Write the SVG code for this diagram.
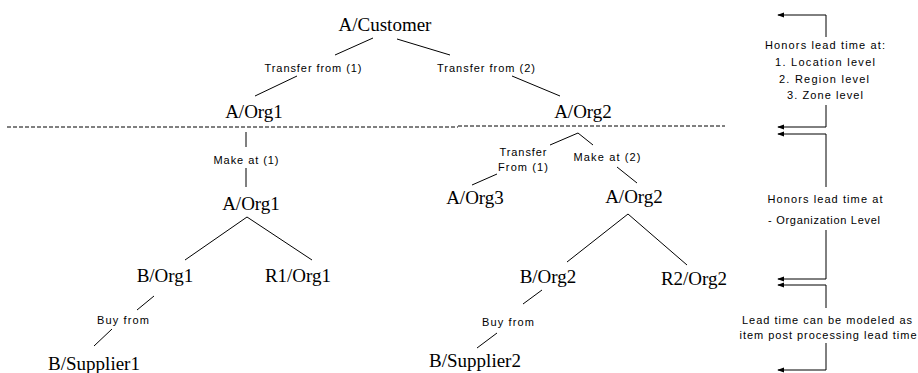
<svg xmlns="http://www.w3.org/2000/svg" width="918" height="373" viewBox="0 0 918 373">
<style>
.n{font-family:"Liberation Serif","Times New Roman",serif;font-size:19px;fill:#000;text-anchor:middle}
.l{font-family:"Liberation Sans",Arial,sans-serif;font-size:11px;fill:#000;text-anchor:middle}
.c line,.c path{stroke:#000;stroke-width:1;fill:none}
.d{stroke-dasharray:4 2}
.a{marker-end:url(#ah)}
</style>
<defs>
<marker id="ah" viewBox="0 0 8 8" refX="7" refY="4" markerWidth="7" markerHeight="7" markerUnits="userSpaceOnUse" orient="auto">
<path d="M0,1 L8,4 L0,7 Z" fill="#000"/>
</marker>
</defs>
<rect width="918" height="373" fill="#fff"/>
<g id="connectors" class="c">
<line x1="373" y1="38" x2="335" y2="55"/>
<line x1="297" y1="76" x2="255" y2="96"/>
<line x1="397" y1="39" x2="450" y2="55"/>
<line x1="512" y1="76" x2="560" y2="96"/>
<line x1="246" y1="132" x2="246" y2="147"/>
<line x1="246" y1="168" x2="246" y2="187"/>
<line x1="578" y1="133" x2="550" y2="145"/>
<line x1="497" y1="174" x2="472" y2="185"/>
<line x1="578" y1="133" x2="593" y2="145"/>
<line x1="617" y1="167" x2="637" y2="183"/>
<line x1="247" y1="217" x2="185" y2="260"/>
<line x1="247" y1="217" x2="312" y2="260"/>
<line x1="628" y1="214" x2="567" y2="262"/>
<line x1="628" y1="214" x2="687" y2="265"/>
<line x1="154" y1="296" x2="137" y2="310"/>
<line x1="112" y1="329" x2="94" y2="346"/>
<line x1="542" y1="290" x2="523" y2="304"/>
<line x1="497" y1="333" x2="477" y2="348"/>
<line class="d" x1="7" y1="127" x2="458" y2="127"/>
<line class="d" x1="458" y1="126" x2="725" y2="126"/>
<path class="a" d="M826,37 V15 H778"/>
<path class="a" d="M826,105 V127 H778"/>
<path class="a" d="M826,187 V134 H778"/>
<path class="a" d="M826,230 V279 H778"/>
<path class="a" d="M826,308 V285 H778"/>
<path class="a" d="M826,343 V370 H778"/>
</g>
<g id="customer"><text class="n" x="385" y="31">A/Customer</text></g>
<g id="org1-top"><text class="n" x="254" y="118">A/Org1</text></g>
<g id="org2-top"><text class="n" x="583" y="118">A/Org2</text></g>
<g id="org1-make"><text class="n" x="251" y="210">A/Org1</text></g>
<g id="org3"><text class="n" x="475" y="204">A/Org3</text></g>
<g id="org2-make"><text class="n" x="634" y="203">A/Org2</text></g>
<g id="b-org1"><text class="n" x="165" y="282">B/Org1</text></g>
<g id="r1-org1"><text class="n" x="298" y="282">R1/Org1</text></g>
<g id="b-org2"><text class="n" x="548" y="283">B/Org2</text></g>
<g id="r2-org2"><text class="n" x="694" y="285">R2/Org2</text></g>
<g id="b-supplier1"><text class="n" x="94" y="370">B/Supplier1</text></g>
<g id="b-supplier2"><text class="n" x="475" y="367">B/Supplier2</text></g>
<g id="labels">
<text class="l" x="313" y="72" textLength="97" lengthAdjust="spacing">Transfer from (1)</text>
<text class="l" x="486" y="72" textLength="98" lengthAdjust="spacing">Transfer from (2)</text>
<text class="l" x="246" y="164" textLength="65" lengthAdjust="spacing">Make at (1)</text>
<text class="l" x="523" y="156" textLength="47" lengthAdjust="spacing">Transfer</text>
<text class="l" x="523" y="171" textLength="50" lengthAdjust="spacing">From (1)</text>
<text class="l" x="607" y="161" textLength="67" lengthAdjust="spacing">Make at (2)</text>
<text class="l" x="123" y="324" textLength="52" lengthAdjust="spacing">Buy from</text>
<text class="l" x="508" y="326" textLength="52" lengthAdjust="spacing">Buy from</text>
</g>
<g id="note-top">
<text class="l" x="825" y="49" textLength="120" lengthAdjust="spacing">Honors lead time at:</text>
<text class="l" x="825" y="66" textLength="100" lengthAdjust="spacing">1. Location level</text>
<text class="l" x="824" y="83" textLength="90" lengthAdjust="spacing">2. Region level</text>
<text class="l" x="825" y="99" textLength="76" lengthAdjust="spacing">3. Zone level</text>
</g>
<g id="note-mid">
<text class="l" x="825" y="203" textLength="115" lengthAdjust="spacing">Honors lead time at</text>
<text class="l" x="824" y="224" textLength="112" lengthAdjust="spacing">- Organization Level</text>
</g>
<g id="note-bottom">
<text class="l" x="827" y="324" textLength="170" lengthAdjust="spacing">Lead time can be modeled as</text>
<text class="l" x="828" y="339" textLength="177" lengthAdjust="spacing">item post processing lead time</text>
</g>
</svg>
